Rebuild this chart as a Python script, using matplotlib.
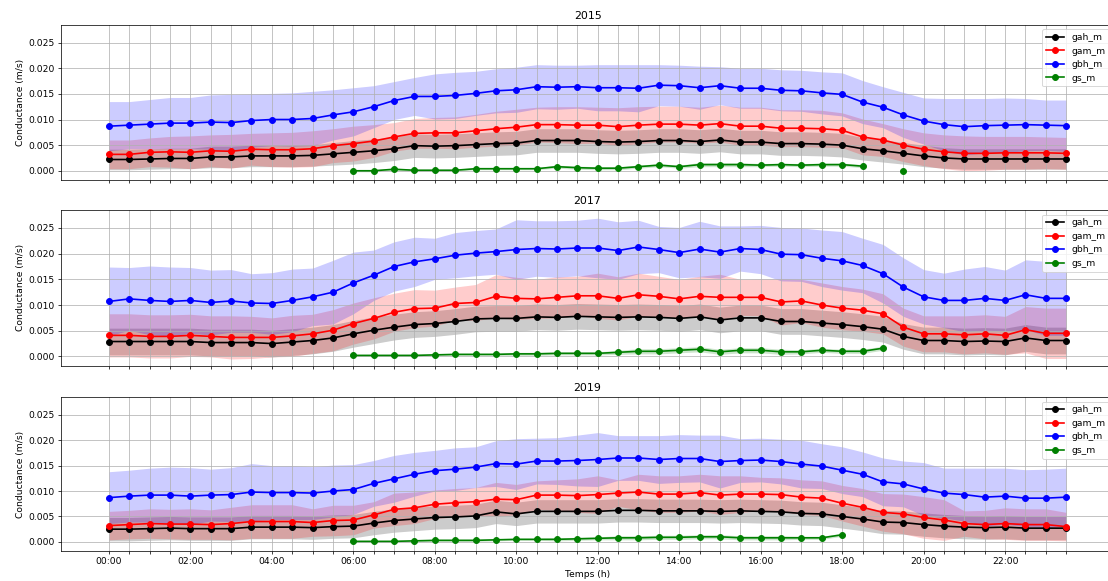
import numpy as np
import matplotlib
matplotlib.use("Agg")
import matplotlib.pyplot as plt
from matplotlib.ticker import FixedLocator, FixedFormatter, FormatStrFormatter

nan = np.nan
hours = np.arange(48) * 0.5
tick_labels = ["%02d:00" % h if h % 2 == 0 else "" for h in range(24) for _ in (0,)]

years = ["2015", "2017", "2019"]
series = ["gah_m", "gam_m", "gbh_m", "gs_m"]
colors = ["black", "red", "blue", "green"]

# ---- 2015 ----
gah_2015 = [0.0022,0.0022,0.0023,0.0024,0.0024,0.0027,0.0027,0.0029,0.0029,0.0029,0.0030,0.0033,
            0.0036,0.0039,0.0043,0.0049,0.0048,0.0049,0.0051,0.0053,0.0054,0.0059,0.0059,0.0059,
            0.0057,0.0056,0.0057,0.0059,0.0059,0.0057,0.0060,0.0056,0.0056,0.0053,0.0053,0.0052,
            0.0050,0.0043,0.0039,0.0034,0.0029,0.0025,0.0023,0.0023,0.0023,0.0023,0.0023,0.0023]
gah_2015_sd = [0.0020,0.0020,0.0020,0.0020,0.0020,0.0021,0.0021,0.0021,0.0021,0.0021,0.0021,0.0022,
               0.0023,0.0023,0.0023,0.0023,0.0023,0.0023,0.0023,0.0023,0.0023,0.0023,0.0023,0.0023,
               0.0023,0.0023,0.0023,0.0023,0.0023,0.0023,0.0023,0.0023,0.0023,0.0023,0.0023,0.0023,
               0.0023,0.0022,0.0022,0.0021,0.0021,0.0020,0.0020,0.0020,0.0020,0.0020,0.0020,0.0020]
gam_2015 = [0.0032,0.0032,0.0036,0.0037,0.0036,0.0039,0.0038,0.0042,0.0041,0.0041,0.0043,0.0049,
            0.0053,0.0058,0.0066,0.0073,0.0074,0.0074,0.0078,0.0082,0.0085,0.0090,0.0090,0.0089,
            0.0089,0.0086,0.0089,0.0091,0.0091,0.0089,0.0092,0.0087,0.0087,0.0083,0.0083,0.0082,
            0.0079,0.0066,0.0060,0.0050,0.0042,0.0037,0.0034,0.0034,0.0035,0.0035,0.0035,0.0034]
gam_2015_sd = [0.0028,0.0028,0.0028,0.0030,0.0032,0.0031,0.0033,0.0031,0.0033,0.0034,0.0035,0.0033,
               0.0034,0.0032,0.0028,0.0029,0.0030,0.0031,0.0032,0.0034,0.0035,0.0034,0.0035,0.0036,
               0.0035,0.0037,0.0036,0.0035,0.0035,0.0035,0.0036,0.0037,0.0037,0.0036,0.0036,0.0036,
               0.0034,0.0035,0.0032,0.0032,0.0032,0.0033,0.0034,0.0033,0.0032,0.0032,0.0031,0.0031]
gbh_2015 = [0.0087,0.0089,0.0091,0.0093,0.0093,0.0095,0.0094,0.0098,0.0100,0.0100,0.0102,0.0109,
            0.0115,0.0125,0.0137,0.0145,0.0145,0.0147,0.0151,0.0156,0.0158,0.0164,0.0163,0.0164,
            0.0162,0.0162,0.0161,0.0167,0.0166,0.0162,0.0166,0.0161,0.0161,0.0157,0.0156,0.0152,
            0.0149,0.0134,0.0124,0.0109,0.0097,0.0090,0.0086,0.0088,0.0089,0.0090,0.0089,0.0088]
gbh_2015_sd = [0.0048,0.0046,0.0048,0.0050,0.0050,0.0053,0.0055,0.0052,0.0051,0.0052,0.0053,0.0049,
               0.0047,0.0041,0.0037,0.0037,0.0044,0.0045,0.0043,0.0043,0.0044,0.0043,0.0043,0.0042,
               0.0045,0.0045,0.0046,0.0040,0.0040,0.0042,0.0037,0.0039,0.0039,0.0040,0.0040,0.0041,
               0.0042,0.0042,0.0040,0.0044,0.0045,0.0051,0.0055,0.0053,0.0053,0.0051,0.0049,0.0050]
gs_2015 = [nan]*12 + [0.0000,0.0000,0.0003,0.0001,0.0001,0.0001,0.0004,0.0004,0.0004,0.0004,0.0008,0.0006,
           0.0005,0.0005,0.0008,0.0011,0.0008,0.0012,0.0012,0.0012,0.0011,0.0012,0.0011,0.0012,
           0.0012,0.0009,nan,0.0000] + [nan]*8
gs_2015_sd = [nan]*12 + [0.0002,0.0002,0.0002,0.0002,0.0002,0.0002,0.0002,0.0002,0.0002,0.0002,0.0003,0.0003,
              0.0003,0.0003,0.0003,0.0003,0.0003,0.0004,0.0004,0.0004,0.0003,0.0003,0.0003,0.0003,
              0.0003,0.0003,nan,nan] + [nan]*8

# ---- 2017 ----
gah_2017 = [0.0029,0.0029,0.0029,0.0029,0.0029,0.0027,0.0027,0.0027,0.0025,0.0028,0.0031,0.0036,
            0.0044,0.0051,0.0057,0.0062,0.0064,0.0068,0.0073,0.0074,0.0074,0.0077,0.0076,0.0078,
            0.0077,0.0076,0.0077,0.0076,0.0074,0.0077,0.0071,0.0075,0.0075,0.0068,0.0068,0.0065,
            0.0062,0.0058,0.0053,0.0039,0.0031,0.0031,0.0029,0.0030,0.0029,0.0036,0.0031,0.0031]
gah_2017_sd = [0.0026]*12 + [0.0026,0.0026,0.0025,0.0025,0.0025,0.0025,0.0025,0.0025,0.0025,0.0025,0.0025,0.0025,
               0.0025,0.0025,0.0025,0.0025,0.0025,0.0025,0.0025,0.0025,0.0025,0.0025,0.0025,0.0025,
               0.0025,0.0025,0.0025,0.0025,0.0026,0.0026,0.0026,0.0026,0.0026,0.0026,0.0026,0.0026]
gam_2017 = [0.0041,0.0041,0.0039,0.0039,0.0041,0.0039,0.0037,0.0037,0.0037,0.0040,0.0044,0.0051,
            0.0064,0.0074,0.0086,0.0093,0.0094,0.0103,0.0105,0.0117,0.0113,0.0112,0.0115,0.0118,
            0.0118,0.0113,0.0120,0.0117,0.0112,0.0117,0.0115,0.0115,0.0115,0.0106,0.0108,0.0100,
            0.0094,0.0090,0.0083,0.0057,0.0044,0.0044,0.0042,0.0044,0.0041,0.0052,0.0045,0.0045]
gam_2017_sd = [0.0042,0.0042,0.0042,0.0042,0.0041,0.0040,0.0042,0.0041,0.0038,0.0040,0.0038,0.0040,
               0.0040,0.0040,0.0037,0.0037,0.0035,0.0032,0.0035,0.0042,0.0041,0.0038,0.0040,0.0038,
               0.0044,0.0042,0.0042,0.0039,0.0038,0.0039,0.0045,0.0035,0.0036,0.0045,0.0042,0.0043,
               0.0042,0.0041,0.0039,0.0037,0.0035,0.0035,0.0037,0.0037,0.0037,0.0045,0.0049,0.0049]
gbh_2017 = [0.0107,0.0112,0.0109,0.0107,0.0109,0.0105,0.0108,0.0104,0.0103,0.0109,0.0116,0.0125,
            0.0143,0.0158,0.0175,0.0184,0.0190,0.0197,0.0201,0.0204,0.0208,0.0210,0.0209,0.0211,
            0.0211,0.0206,0.0213,0.0208,0.0202,0.0209,0.0203,0.0210,0.0208,0.0199,0.0198,0.0191,
            0.0186,0.0177,0.0161,0.0135,0.0116,0.0109,0.0109,0.0113,0.0109,0.0120,0.0113,0.0113]
gbh_2017_sd = [0.0067,0.0061,0.0067,0.0067,0.0064,0.0063,0.0061,0.0057,0.0060,0.0061,0.0056,0.0062,
               0.0060,0.0049,0.0048,0.0048,0.0040,0.0044,0.0044,0.0044,0.0058,0.0054,0.0055,0.0054,
               0.0058,0.0056,0.0052,0.0045,0.0049,0.0054,0.0051,0.0044,0.0047,0.0052,0.0052,0.0055,
               0.0057,0.0053,0.0057,0.0057,0.0053,0.0053,0.0061,0.0062,0.0059,0.0068,0.0072,0.0072]
gs_2017 = [nan]*12 + [0.0002,0.0002,0.0002,0.0002,0.0003,0.0004,0.0004,0.0004,0.0005,0.0005,0.0006,0.0006,
           0.0006,0.0008,0.0010,0.0010,0.0012,0.0014,0.0009,0.0012,0.0012,0.0009,0.0009,0.0012,
           0.0010,0.0010,0.0016] + [nan]*9
gs_2017_sd = [nan]*12 + [0.0002,0.0002,0.0002,0.0002,0.0002,0.0002,0.0002,0.0002,0.0003,0.0003,0.0003,0.0003,
              0.0003,0.0004,0.0005,0.0005,0.0005,0.0005,0.0005,0.0005,0.0005,0.0005,0.0004,0.0004,
              0.0004,0.0004,0.0004] + [nan]*9

# ---- 2019 ----
gah_2019 = [0.0025,0.0025,0.0026,0.0027,0.0026,0.0026,0.0026,0.0029,0.0029,0.0029,0.0028,0.0030,
            0.0031,0.0037,0.0042,0.0045,0.0048,0.0049,0.0051,0.0059,0.0055,0.0060,0.0060,0.0060,
            0.0060,0.0062,0.0062,0.0061,0.0061,0.0061,0.0060,0.0061,0.0060,0.0059,0.0056,0.0055,
            0.0050,0.0045,0.0039,0.0038,0.0034,0.0031,0.0029,0.0028,0.0029,0.0027,0.0027,0.0027]
gah_2019_sd = [0.0023]*12 + [0.0023,0.0023,0.0023,0.0023,0.0023,0.0023,0.0023,0.0023,0.0023,0.0023,0.0023,0.0023,
               0.0023,0.0023,0.0023,0.0023,0.0023,0.0023,0.0023,0.0023,0.0023,0.0023,0.0023,0.0023,
               0.0023,0.0023,0.0023,0.0023,0.0023,0.0023,0.0023,0.0023,0.0023,0.0023,0.0023,0.0023]
gam_2019 = [0.0032,0.0034,0.0036,0.0035,0.0035,0.0034,0.0036,0.0040,0.0040,0.0040,0.0038,0.0042,
            0.0043,0.0053,0.0064,0.0067,0.0074,0.0077,0.0079,0.0084,0.0083,0.0092,0.0092,0.0091,
            0.0093,0.0096,0.0098,0.0094,0.0094,0.0097,0.0092,0.0094,0.0094,0.0093,0.0088,0.0086,
            0.0076,0.0068,0.0058,0.0055,0.0048,0.0043,0.0036,0.0034,0.0036,0.0034,0.0034,0.0030]
gam_2019_sd = [0.0028,0.0028,0.0029,0.0029,0.0030,0.0029,0.0032,0.0033,0.0033,0.0033,0.0027,0.0030,
               0.0029,0.0026,0.0032,0.0031,0.0028,0.0028,0.0028,0.0033,0.0030,0.0028,0.0030,0.0033,
               0.0037,0.0026,0.0035,0.0036,0.0036,0.0036,0.0038,0.0036,0.0033,0.0033,0.0034,0.0034,
               0.0035,0.0037,0.0037,0.0039,0.0041,0.0040,0.0025,0.0028,0.0031,0.0031,0.0031,0.0028]
gbh_2019 = [0.0087,0.0090,0.0092,0.0092,0.0090,0.0092,0.0093,0.0098,0.0097,0.0097,0.0096,0.0100,
            0.0103,0.0115,0.0124,0.0133,0.0140,0.0143,0.0147,0.0154,0.0153,0.0159,0.0159,0.0160,
            0.0162,0.0165,0.0165,0.0162,0.0164,0.0164,0.0158,0.0160,0.0161,0.0158,0.0153,0.0149,
            0.0141,0.0133,0.0118,0.0114,0.0104,0.0096,0.0093,0.0088,0.0090,0.0086,0.0086,0.0088]
gbh_2019_sd = [0.0051,0.0051,0.0053,0.0055,0.0056,0.0051,0.0053,0.0056,0.0053,0.0053,0.0052,0.0051,
               0.0049,0.0045,0.0046,0.0043,0.0040,0.0042,0.0040,0.0045,0.0050,0.0045,0.0046,0.0050,
               0.0053,0.0044,0.0044,0.0047,0.0047,0.0046,0.0052,0.0043,0.0043,0.0044,0.0047,0.0044,
               0.0046,0.0044,0.0047,0.0045,0.0052,0.0049,0.0052,0.0057,0.0055,0.0056,0.0057,0.0057]
gs_2019 = [nan]*12 + [0.0001,0.0001,0.0001,0.0002,0.0003,0.0003,0.0003,0.0004,0.0005,0.0005,0.0005,0.0006,
           0.0007,0.0008,0.0008,0.0009,0.0009,0.0010,0.0010,0.0008,0.0008,0.0008,0.0008,0.0008,
           0.0014] + [nan]*11
gs_2019_sd = [nan]*12 + [0.0002,0.0002,0.0002,0.0002,0.0002,0.0002,0.0002,0.0002,0.0002,0.0002,0.0003,0.0003,
              0.0003,0.0004,0.0004,0.0004,0.0004,0.0004,0.0004,0.0004,0.0004,0.0004,0.0003,0.0003,
              0.0003] + [nan]*11

data = {
    "2015": [(gah_2015, gah_2015_sd), (gam_2015, gam_2015_sd), (gbh_2015, gbh_2015_sd), (gs_2015, gs_2015_sd)],
    "2017": [(gah_2017, gah_2017_sd), (gam_2017, gam_2017_sd), (gbh_2017, gbh_2017_sd), (gs_2017, gs_2017_sd)],
    "2019": [(gah_2019, gah_2019_sd), (gam_2019, gam_2019_sd), (gbh_2019, gbh_2019_sd), (gs_2019, gs_2019_sd)],
}

fig = plt.figure(figsize=(1108/66, 581/66), dpi=66)
positions = [[0.0551, 0.6902, 0.9504, 0.2673],
             [0.0551, 0.3706, 0.9504, 0.2680],
             [0.0551, 0.0516, 0.9504, 0.2651]]
axes = []
for i, yr in enumerate(years):
    ax = fig.add_axes(positions[i], sharex=axes[0] if axes else None)
    axes.append(ax)
    for (m, s), name, c in zip(data[yr], series, colors):
        m = np.array(m, dtype=float)
        s = np.array(s, dtype=float)
        ax.plot(hours, m, "o-", color=c, label=name, markersize=6.5, linewidth=1.8)
        ax.fill_between(hours, m - s, m + s, color=c, alpha=0.2, linewidth=0)
    ax.set_title(yr)
    ax.set_ylabel("Conductance (m/s)")
    ax.set_ylim(-0.0018, 0.0285)
    ax.set_yticks([0, 0.005, 0.010, 0.015, 0.020, 0.025])
    ax.yaxis.set_major_formatter(FormatStrFormatter("%.3f"))
    ax.xaxis.set_major_locator(FixedLocator(hours))
    ax.grid(True)
    ax.legend(loc="upper right")

axes[0].set_xlim(-0.05 * 23.5, 23.5 + 0.05 * 23.5)
labels = ["%02d:00" % int(h) if (h % 2 == 0) else "" for h in hours]
axes[2].xaxis.set_major_formatter(FixedFormatter(labels))
for ax in axes[:2]:
    ax.tick_params(labelbottom=False)
axes[2].set_xlabel("Temps (h)")

fig.savefig("out.png", dpi=66)
